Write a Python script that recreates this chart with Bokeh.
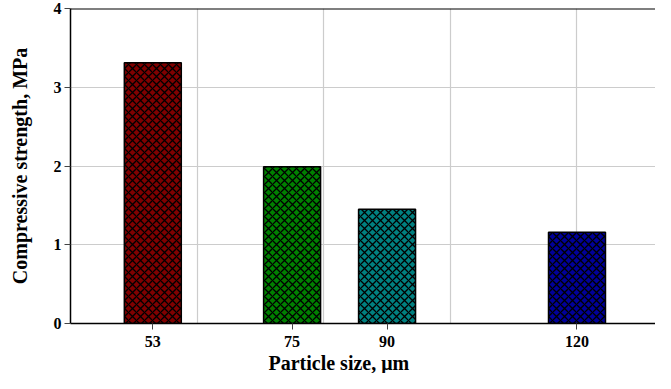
from bokeh.plotting import figure
from bokeh.models import FixedTicker, Span, Title, Range1d
from bokeh.embed import file_html
from bokeh.resources import INLINE

# Data
particle_sizes = [53, 75, 90, 120]
strength_mpa = [3.31, 1.99, 1.45, 1.16]
bar_colors = ["#800000", "#008000", "#008080", "#000099"]
x_tick_values = [53, 75, 90, 120]
x_grid_values = [60, 80, 100, 120]
y_tick_values = [0, 1, 2, 3, 4]

FONT = "Liberation Serif"

p = figure(width=655, height=373, output_backend="svg", toolbar_location=None,
           x_range=Range1d(40, 132.4), y_range=Range1d(0, 4),
           min_border_left=70, min_border_right=0, min_border_top=8, min_border_bottom=0)
p.outline_line_color = None
p.background_fill_color = "white"
p.border_fill_color = "white"

p.vbar(x=particle_sizes, top=strength_mpa, width=9, fill_color=bar_colors,
       line_color="black", line_width=1.5,
       hatch_pattern="x", hatch_color="black", hatch_scale=8, hatch_weight=1.3)

# grids
p.xgrid.ticker = FixedTicker(ticks=x_grid_values)
p.ygrid.ticker = FixedTicker(ticks=[1, 2, 3])
p.grid.grid_line_color = "#cccccc"
p.grid.grid_line_width = 1.2

# top border
p.add_layout(Span(location=4, dimension="width", line_color="black", line_width=2))

# axes
p.xaxis.ticker = FixedTicker(ticks=x_tick_values)
p.yaxis.ticker = FixedTicker(ticks=y_tick_values)
for ax in (p.xaxis[0], p.yaxis[0]):
    ax.axis_line_color = "black"
    ax.axis_line_width = 1.5
    ax.major_tick_line_color = "#444444"
    ax.major_tick_in = 0
    ax.major_tick_out = 6
    ax.minor_tick_line_color = None
    ax.major_label_text_font = FONT
    ax.major_label_text_font_style = "bold"
    ax.major_label_text_font_size = "16px"
    ax.major_label_text_color = "black"
    ax.axis_label_text_font = FONT
    ax.axis_label_text_font_style = "bold"
    ax.axis_label_text_font_size = "20px"
    ax.axis_label_text_color = "black"

p.xaxis.major_label_standoff = 6
p.yaxis.major_label_standoff = 3
p.yaxis.axis_label = "Compressive strength, MPa"
p.yaxis.axis_label_standoff = 20

xt = Title(text="Particle size, μm", align="left", offset=198,
           text_font=FONT, text_font_style="bold", text_font_size="20px",
           text_color="black", standoff=0)
p.add_layout(xt, "below")

open("out.html", "w").write(file_html(p, INLINE))
